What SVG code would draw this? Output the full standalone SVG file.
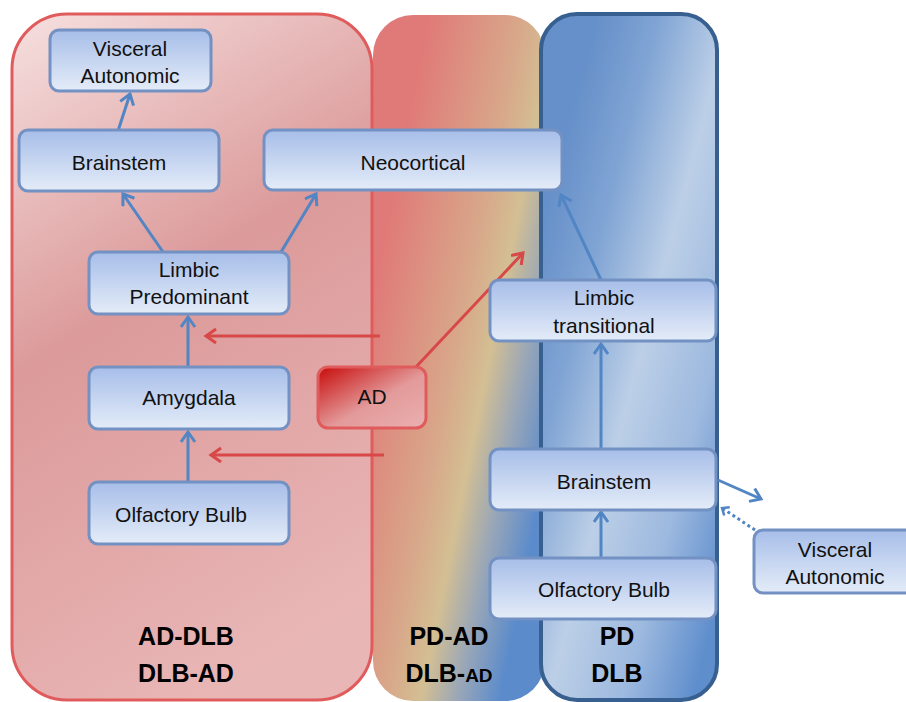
<svg xmlns="http://www.w3.org/2000/svg" width="906" height="702" viewBox="0 0 906 702">
<defs>
<linearGradient id="gRed" gradientUnits="userSpaceOnUse" x1="12" y1="14" x2="372" y2="600">
<stop offset="0" stop-color="#f6e0e0"/><stop offset="0.45" stop-color="#dc9a9a"/><stop offset="1" stop-color="#e9b6b6"/>
</linearGradient>
<linearGradient id="gMid" gradientUnits="userSpaceOnUse" x1="372" y1="300" x2="572" y2="340">
<stop offset="0" stop-color="#e07a78"/><stop offset="0.45" stop-color="#d8a88a"/><stop offset="0.62" stop-color="#d3bf93"/><stop offset="0.8" stop-color="#98a6b8"/><stop offset="1" stop-color="#5b8bcb"/>
</linearGradient>
<linearGradient id="gBlue" gradientUnits="userSpaceOnUse" x1="521" y1="300" x2="781" y2="370">
<stop offset="0" stop-color="#6690c9"/><stop offset="0.22" stop-color="#80a4d4"/><stop offset="0.48" stop-color="#bccfe7"/><stop offset="0.75" stop-color="#9db9df"/><stop offset="1" stop-color="#5f8ecd"/>
</linearGradient>
<linearGradient id="gNode" x1="0" y1="0" x2="0" y2="1">
<stop offset="0" stop-color="#a7bee9"/><stop offset="1" stop-color="#e4ecf8"/>
</linearGradient>
<linearGradient id="gAD" x1="0" y1="0" x2="1" y2="1">
<stop offset="0" stop-color="#c80a0a"/><stop offset="0.55" stop-color="#e39a9a"/><stop offset="1" stop-color="#eab0b0"/>
</linearGradient>
<marker id="aB" markerUnits="userSpaceOnUse" markerWidth="20" markerHeight="20" refX="11" refY="8" orient="auto">
<path d="M1,1 L11,8 L1,15" fill="none" stroke="#5185c4" stroke-width="3"/>
</marker>
<marker id="aBs" markerUnits="userSpaceOnUse" markerWidth="14" markerHeight="14" refX="7" refY="6" orient="auto">
<path d="M1,1 L7,6 L1,11" fill="none" stroke="#5185c4" stroke-width="2.5"/>
</marker>
<marker id="aR" markerUnits="userSpaceOnUse" markerWidth="20" markerHeight="20" refX="11" refY="8" orient="auto">
<path d="M1,1 L11,8 L1,15" fill="none" stroke="#d84848" stroke-width="3"/>
</marker>
</defs>
<style>
.node rect{fill:url(#gNode);stroke:#7391c2;stroke-width:3}
.t{font-family:"Liberation Sans",Arial,sans-serif;font-size:21px;fill:#111;text-anchor:middle}
.b{font-family:"Liberation Sans",Arial,sans-serif;font-size:25px;font-weight:bold;fill:#000;text-anchor:middle}
.bl{fill:none;stroke:#5185c4;stroke-width:3;marker-end:url(#aB)}
.rl{fill:none;stroke:#d84848;stroke-width:3;marker-end:url(#aR)}
</style>
<rect width="906" height="702" fill="#fff"/>
<g id="panels">
<rect id="panel-mid" x="373" y="15" width="172" height="686" rx="40" fill="url(#gMid)"/>
<rect id="panel-red" x="12" y="14" width="360" height="686" rx="55" fill="url(#gRed)" stroke="#e05c5c" stroke-width="3"/>
<rect id="panel-blue" x="541" y="14" width="176" height="686" rx="36" fill="url(#gBlue)" stroke="#375f8f" stroke-width="4"/>
</g>
<g id="labels">
<text class="b" x="186" y="645">AD-DLB</text>
<text class="b" x="186" y="682">DLB-AD</text>
<text class="b" x="449" y="645">PD-AD</text>
<text class="b" x="449" y="682">DLB-<tspan font-size="19">AD</tspan></text>
<text class="b" x="617" y="645">PD</text>
<text class="b" x="617" y="682">DLB</text>
</g>
<g id="connectors">
<line class="bl" x1="118" y1="131" x2="130" y2="94"/>
<line class="bl" x1="163" y1="252" x2="123" y2="194"/>
<line class="bl" x1="281" y1="252" x2="316" y2="194"/>
<line class="bl" x1="188" y1="367" x2="188" y2="317"/>
<line class="bl" x1="188" y1="482" x2="188" y2="432"/>
<line class="bl" x1="601" y1="280" x2="561" y2="195"/>
<line class="bl" x1="601" y1="449" x2="601" y2="344"/>
<line class="bl" x1="601" y1="558" x2="601" y2="512"/>
<line class="bl" x1="718" y1="480" x2="761" y2="499"/>
<line x1="755" y1="530" x2="722" y2="508" fill="none" stroke="#5185c4" stroke-width="3" stroke-dasharray="3,3" marker-end="url(#aBs)"/>
<line class="rl" x1="380" y1="336" x2="206" y2="336"/>
<line class="rl" x1="384" y1="455" x2="211" y2="455"/>
<line class="rl" x1="415" y1="368" x2="523" y2="253"/>
</g>
<g id="n-visceral-l" class="node"><rect x="50" y="30" width="161" height="61" rx="9"/><text class="t" x="130" y="56">Visceral</text><text class="t" x="130" y="83">Autonomic</text></g>
<g id="n-brainstem-l" class="node"><rect x="19" y="130" width="200" height="61" rx="9"/><text class="t" x="119" y="170">Brainstem</text></g>
<g id="n-neocortical" class="node"><rect x="264" y="130" width="298" height="60" rx="9"/><text class="t" x="413" y="170">Neocortical</text></g>
<g id="n-limbic-pred" class="node"><rect x="89" y="252" width="200" height="62" rx="9"/><text class="t" x="189" y="277">Limbic</text><text class="t" x="189" y="304">Predominant</text></g>
<g id="n-amygdala" class="node"><rect x="89" y="367" width="200" height="62" rx="9"/><text class="t" x="189" y="405">Amygdala</text></g>
<g id="n-olfactory-l" class="node"><rect x="89" y="482" width="200" height="62" rx="9"/><text class="t" x="181" y="522">Olfactory Bulb</text></g>
<g id="n-ad"><rect x="318" y="367" width="108" height="61" rx="10" fill="url(#gAD)" stroke="#e05c5c" stroke-width="3"/><text class="t" x="372" y="404">AD</text></g>
<g id="n-limbic-trans" class="node"><rect x="490" y="280" width="226" height="61" rx="9"/><text class="t" x="604" y="305">Limbic</text><text class="t" x="604" y="333">transitional</text></g>
<g id="n-brainstem-r" class="node"><rect x="490" y="449" width="226" height="61" rx="9"/><text class="t" x="604" y="489">Brainstem</text></g>
<g id="n-olfactory-r" class="node"><rect x="490" y="558" width="226" height="61" rx="9"/><text class="t" x="604" y="597">Olfactory Bulb</text></g>
<g id="n-visceral-r" class="node"><rect x="754" y="530" width="160" height="63" rx="9"/><text class="t" x="835" y="557">Visceral</text><text class="t" x="835" y="584">Autonomic</text></g>
</svg>
